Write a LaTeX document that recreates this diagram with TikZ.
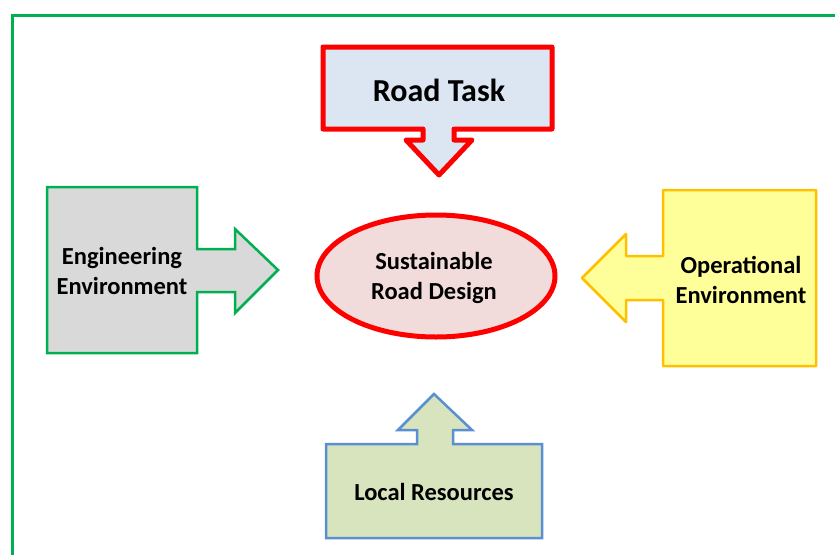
\documentclass[tikz,border=0pt]{standalone}
\usepackage{fontspec}
\setmainfont{Carlito}
\definecolor{frameGreen}{HTML}{00B050}
\definecolor{engFill}{HTML}{D9D9D9}
\definecolor{taskFill}{HTML}{DCE6F2}
\definecolor{ellFill}{HTML}{F2DCDB}
\definecolor{opFill}{HTML}{FFFF99}
\definecolor{opLine}{HTML}{FFC000}
\definecolor{locFill}{HTML}{D7E4BD}
\definecolor{locLine}{HTML}{5B8FD3}
\tikzset{
  lbl/.style={font=\bfseries\fontsize{24.5}{30}\selectfont, align=center, text=black},
  bigLbl/.style={font=\bfseries\fontsize{32}{36}\selectfont, text=black},
}
\begin{document}
\begin{tikzpicture}[x=1pt,y=-1pt]
\useasboundingbox (0,0) rectangle (835,554);
% outer frame
\draw[frameGreen, line width=3pt] (12,570) -- (12,15) -- (850,15);
% Road Task callout (down)
\draw[red, line width=5pt, fill=taskFill, line join=round]
  (323,47) -- (552,47) -- (552,129) -- (454,129) -- (454,140) -- (472,140)
  -- (439,175) -- (406,140) -- (423,140) -- (423,129) -- (323,129) -- cycle;
\node[bigLbl] (task) at (439,90) {Road Task};
% Engineering callout (right)
\draw[frameGreen, line width=2.5pt, fill=engFill, line join=miter]
  (47,187) -- (197,187) -- (197,249) -- (235,249) -- (235,229) -- (278,270)
  -- (235,313) -- (235,292) -- (197,292) -- (197,353) -- (47,353) -- cycle;
\node[lbl] (eng) at (122,271) {Engineering\\Environment};
% Operational callout (left)
\draw[opLine, line width=2.5pt, fill=opFill, line join=round]
  (663,190) -- (816,190) -- (816,366) -- (663,366) -- (663,300) -- (626,300)
  -- (626,322) -- (582,278) -- (626,234) -- (626,256) -- (663,256) -- cycle;
\node[lbl] (op) at (741,280) {Operational\\Environment};
% Local Resources callout (up)
\draw[locLine, line width=2.5pt, fill=locFill, line join=miter]
  (326,444) -- (417,444) -- (417,430) -- (398,430) -- (434,394) -- (472,430)
  -- (453,430) -- (453,444) -- (542,444) -- (542,538) -- (326,538) -- cycle;
\node[lbl] (loc) at (434,492) {Local Resources};
% central ellipse
\draw[red, line width=5pt, fill=ellFill] (436,276) ellipse [x radius=119, y radius=61];
\node[lbl] (design) at (434,277.5) {Sustainable\\Road Design};
\end{tikzpicture}
\end{document}
